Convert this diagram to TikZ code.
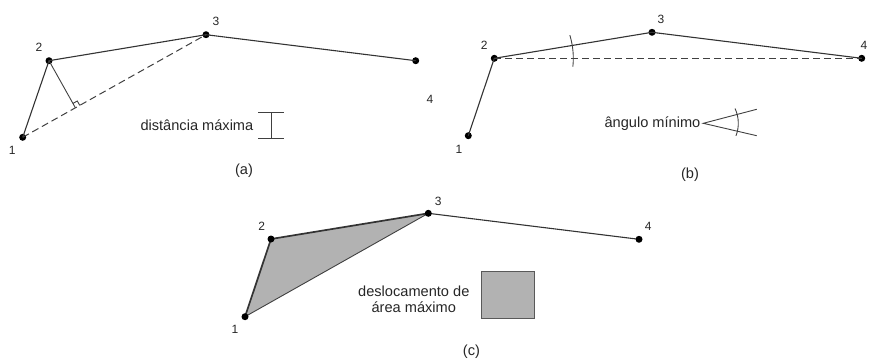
\documentclass[tikz,border=0pt]{standalone}
\usepackage{fontspec}
\setmainfont{Liberation Sans}
\usetikzlibrary{calc}
\begin{document}
\begin{tikzpicture}[x=1pt,y=-1pt,
  vtx/.style={circle,fill=black,inner sep=0pt,minimum size=7pt},
  lbl/.style={inner sep=0pt,font=\fontsize{12}{14}\selectfont,text=black!85},
  txt/.style={inner sep=0pt,font=\fontsize{14.6}{16}\selectfont,text=black!85,align=center},
  edge/.style={line width=1.1pt,black!80},
  dashedge/.style={line width=1pt,black!75,dash pattern=on 7pt off 4pt},
  thin/.style={line width=0.9pt,black!75}]
\useasboundingbox (0,0) rectangle (869,362);

% ---------- (a) maximum distance ----------
\node[vtx] (a1) at (22.7,137.3) {};
\node[vtx] (a2) at (49,60.7) {};
\node[vtx] (a3) at (206,34.7) {};
\node[vtx] (a4) at (415.7,60.7) {};
\node[lbl] (la1) at (12.3,150.7) {1};
\node[lbl] (la2) at (39,47.7) {2};
\node[lbl] (la3) at (216,21.3) {3};
\node[lbl] (la4) at (430,99.3) {4};
\draw[edge] (a1.center) -- (a2.center) -- (a3.center) -- (a4.center);
\draw[dashedge] (a1.center) -- (a3.center);
\coordinate (af) at (75.4,107.8);
\draw[thin] (a2.center) -- (af);
\draw[thin] (73.0,103.4) -- (77.3,101.0) -- (79.8,105.4);
\node[txt,anchor=east] (ta) at (253.5,125.5) {distância máxima};
\coordinate (ia) at (258.3,112.7);
\coordinate (ib) at (284.3,112.7);
\coordinate (ic) at (258.3,138.3);
\coordinate (id) at (284.3,138.3);
\draw[thin] (ia) -- (ib);
\draw[thin] (ic) -- (id);
\draw[thin] ($(ia)!0.5!(ib)$) -- ($(ic)!0.5!(id)$);
\node[txt] (capa) at (244,171) {(a)};

% ---------- (b) minimum angle ----------
\node[vtx] (b1) at (468.3,135.7) {};
\node[vtx] (b2) at (494.3,58.3) {};
\node[vtx] (b3) at (652,32.3) {};
\node[vtx] (b4) at (861.7,58.3) {};
\node[lbl] (lb1) at (459,149) {1};
\node[lbl] (lb2) at (484.3,45.7) {2};
\node[lbl] (lb3) at (661,19) {3};
\node[lbl] (lb4) at (864,45) {4};
\draw[edge] (b1.center) -- (b2.center) -- (b3.center) -- (b4.center);
\draw[dashedge] (b2.center) -- (b4.center);
\draw[thin] ([shift={(-17:79)}]b2.center) arc[start angle=-17, end angle=6, radius=79];
\node[txt,anchor=east] (tb) at (700.5,123.3) {ângulo mínimo};
\coordinate (bv) at (703.3,123.3);
\coordinate (bu) at (756.7,109.3);
\coordinate (bd) at (756.7,135.7);
\draw[thin] (bu) -- (bv) -- (bd);
\draw[thin] ([shift={(-25:35)}]bv) arc[start angle=-25, end angle=21, radius=35];
\node[txt] (capb) at (690,175) {(b)};

% ---------- (c) maximum area displacement ----------
\coordinate (c1) at (245,316.7);
\coordinate (c2) at (271,239);
\coordinate (c3) at (428.3,213.3);
\coordinate (c4) at (639,239.3);
\fill[black!30] (c1) -- (c2) -- (c3) -- cycle;
\draw[thin] (c1) -- (c3);
\draw[line width=1.7pt,black!80] (c1) -- (c2) -- (c3);
\draw[edge] (c3) -- (c4);
\node[vtx] (n1) at (c1) {};
\node[vtx] (n2) at (c2) {};
\node[vtx] (n3) at (c3) {};
\node[vtx] (n4) at (c4) {};
\node[lbl] (lc1) at (235,329.3) {1};
\node[lbl] (lc2) at (261.7,226) {2};
\node[lbl] (lc3) at (438.3,201) {3};
\node[lbl] (lc4) at (648.3,226) {4};
\node[txt,font=\fontsize{14.6}{16}\selectfont] (tc) at (413.8,299.5) {deslocamento de\\área máximo};
\node[draw=black!65,fill=black!30,line width=1.1pt,inner sep=0pt,
      minimum width=53pt,minimum height=46.6pt] (sq) at (508.3,295) {};
\node[txt] (capc) at (471.5,352) {(c)};
\end{tikzpicture}
\end{document}
